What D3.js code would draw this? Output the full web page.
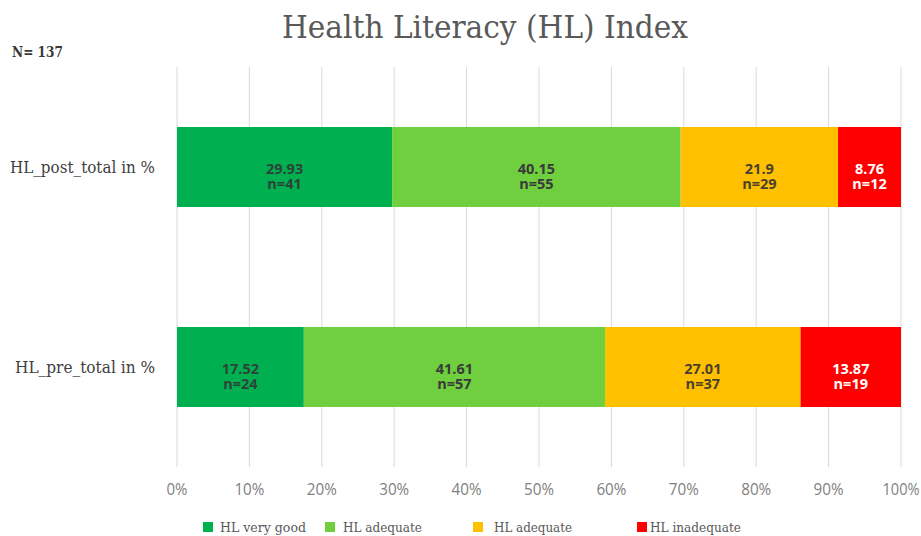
<!DOCTYPE html>
<html><head><meta charset="utf-8">
<script src="https://cdn.jsdelivr.net/npm/d3@7"></script>
<style>body{margin:0;background:#fff}</style>
</head><body>
<svg id="c" width="921" height="536"></svg>
<script>
const categories = ["HL_post_total in %", "HL_pre_total in %"];
const seriesNames = ["HL very good", "HL adequate", "HL adequate", "HL inadequate"];
const seriesColors = ["#00B050", "#6FCF3F", "#FFC000", "#FF0000"];
const labelColors = ["#2c4438", "#3a3a3a", "#4a4030", "#ffffff"];
const postValues = [29.93, 40.15, 21.9, 8.76];
const preValues = [17.52, 41.61, 27.01, 13.87];
const postCounts = [41, 55, 29, 12];
const preCounts = [24, 57, 37, 19];
const ticks = [0, 10, 20, 30, 40, 50, 60, 70, 80, 90, 100];

const svg = d3.select("#c");
const x = d3.scaleLinear().domain([0, 100]).range([177, 901]);
const y = d3.scaleBand().domain(categories).range([67, 467]).paddingInner(0.6).paddingOuter(0.3);

// grid
svg.append("g").selectAll("line").data(ticks).join("line")
  .attr("x1", d => x(d)).attr("x2", d => x(d)).attr("y1", 67).attr("y2", 467)
  .attr("stroke", "#d9d9d9").attr("stroke-width", 1);

// tick labels
svg.append("g").selectAll("text").data(ticks).join("text")
  .attr("x", d => x(d)).attr("y", 495).attr("text-anchor", "middle")
  .attr("font-family", "'Open Sans', sans-serif").attr("font-size", 15.5).attr("fill", "#808080")
  .attr("textLength", d => d === 100 ? 37 : d === 0 ? 21 : 30).attr("lengthAdjust", "spacingAndGlyphs")
  .text(d => d + "%");

const rows = [
  {cat: categories[0], values: postValues, counts: postCounts},
  {cat: categories[1], values: preValues, counts: preCounts}
];

rows.forEach(r => {
  // 100% stacked: normalise each row to its total
  const total = d3.sum(r.values);
  let cum = 0;
  const segs = r.values.map((v, i) => {
    const p = v / total * 100;
    const s = {x0: cum, x1: cum + p, v, n: r.counts[i], i};
    cum += p; return s;
  });
  const g = svg.append("g");
  g.selectAll("rect").data(segs).join("rect")
    .attr("x", d => x(d.x0)).attr("width", d => x(d.x1) - x(d.x0))
    .attr("y", y(r.cat)).attr("height", y.bandwidth())
    .attr("fill", d => seriesColors[d.i]);
  const cy = y(r.cat) + y.bandwidth() / 2;
  g.selectAll("text.v").data(segs).join("text").attr("class", "v")
    .attr("x", d => x((d.x0 + d.x1) / 2)).attr("y", cy + 6.5)
    .attr("text-anchor", "middle")
    .attr("font-family", "'Open Sans', 'DejaVu Sans', sans-serif").attr("font-weight", "bold")
    .attr("font-size", 14.5).attr("fill", d => labelColors[d.i])
    .text(d => String(d.v));
  g.selectAll("text.n").data(segs).join("text").attr("class", "n")
    .attr("x", d => x((d.x0 + d.x1) / 2)).attr("y", cy + 21.5)
    .attr("text-anchor", "middle")
    .attr("font-family", "'Open Sans', 'DejaVu Sans', sans-serif").attr("font-weight", "bold")
    .attr("font-size", 14.5).attr("fill", d => labelColors[d.i])
    .text(d => "n=" + d.n);
});

// category labels
svg.append("g").selectAll("text").data(categories).join("text")
  .attr("x", 155).attr("y", d => y(d) + y.bandwidth() / 2 + 5.5).attr("text-anchor", "end")
  .attr("font-family", "'DejaVu Serif', serif").attr("font-size", 16).attr("fill", "#404040")
  .attr("textLength", (d, i) => i === 0 ? 145 : 140).attr("lengthAdjust", "spacingAndGlyphs")
  .text(d => d);

// title
svg.append("text").attr("x", 485).attr("y", 38).attr("text-anchor", "middle")
  .attr("font-family", "'DejaVu Serif', serif").attr("font-size", 32).attr("fill", "#595959")
  .attr("textLength", 406).attr("lengthAdjust", "spacingAndGlyphs")
  .text("Health Literacy (HL) Index");

svg.append("text").attr("x", 12).attr("y", 57)
  .attr("font-family", "'DejaVu Serif', serif").attr("font-size", 15).attr("font-weight", "bold").attr("fill", "#3a3a3a")
  .attr("textLength", 51).attr("lengthAdjust", "spacingAndGlyphs")
  .text("N= 137");

// legend
const legendSq = [203, 325, 473, 637];
const legendTx = [220, 343, 494, 650];
const legendTw = [86, 79, 78, 91];
const lg = svg.append("g").selectAll("g").data(seriesNames).join("g");
lg.append("rect").attr("x", (d, i) => legendSq[i]).attr("y", 522).attr("width", 10).attr("height", 10)
  .attr("fill", (d, i) => seriesColors[i]);
lg.append("text").attr("x", (d, i) => legendTx[i]).attr("y", 532)
  .attr("font-family", "'DejaVu Serif', serif").attr("font-size", 12.5).attr("fill", "#595959")
  .attr("textLength", (d, i) => legendTw[i]).attr("lengthAdjust", "spacingAndGlyphs")
  .text(d => d);
</script>
</body></html>
